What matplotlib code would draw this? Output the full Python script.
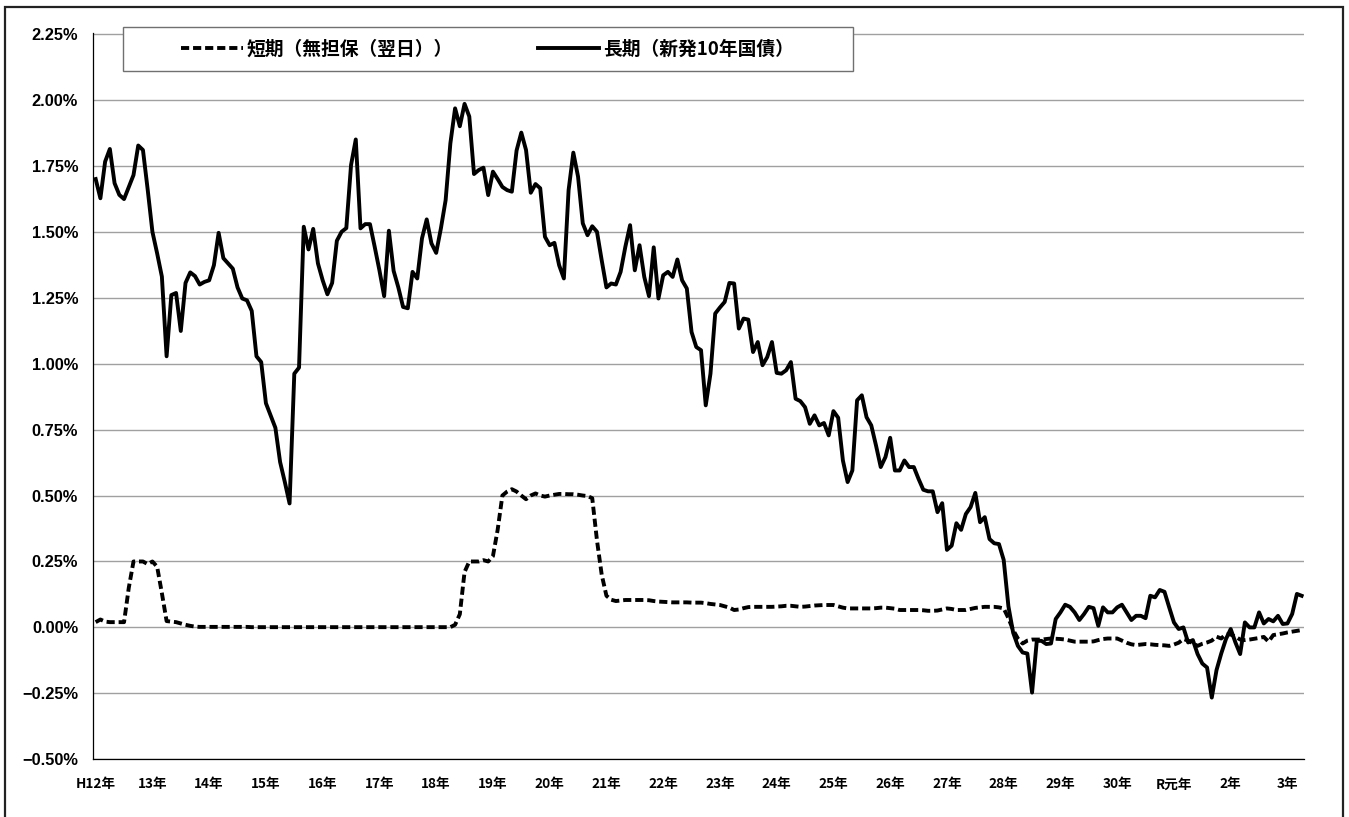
import numpy as np
import matplotlib
matplotlib.use('Agg')
import matplotlib.pyplot as plt
from matplotlib.patches import Rectangle
from matplotlib.ticker import FuncFormatter

# x axis labels, one per January (H12 = 2000 ... R3 = 2021)
year_labels = ['H12年', '13年', '14年', '15年', '16年', '17年', '18年', '19年',
               '20年', '21年', '22年', '23年', '24年', '25年', '26年', '27年',
               '28年', '29年', '30年', 'R元年', '2年', '3年']

# 短期（無担保コール翌日物） monthly, %
short_rate = [
    0.02, 0.03, 0.022, 0.02, 0.02, 0.02, 0.02, 0.15, 0.25, 0.25, 0.25, 0.24,          # H12
    0.25, 0.23, 0.13, 0.024, 0.022, 0.02, 0.015, 0.01, 0.006, 0.003, 0.002, 0.002,     # H13
    0.002, 0.002, 0.002, 0.002, 0.002, 0.002, 0.002, 0.002, 0.002, 0.001, 0.001, 0.001,  # H14
    0.001, 0.001, 0.001, 0.001, 0.001, 0.001, 0.001, 0.001, 0.001, 0.001, 0.001, 0.001,  # H15
    0.001, 0.001, 0.001, 0.001, 0.001, 0.001, 0.001, 0.001, 0.001, 0.001, 0.001, 0.001,  # H16
    0.001, 0.001, 0.001, 0.001, 0.001, 0.001, 0.001, 0.001, 0.001, 0.001, 0.001, 0.001,  # H17
    0.001, 0.001, 0.001, 0.001, 0.01, 0.05, 0.21, 0.25, 0.25, 0.25, 0.255, 0.25,       # H18
    0.27, 0.37, 0.50, 0.515, 0.524, 0.515, 0.50, 0.486, 0.50, 0.508, 0.50, 0.496,      # H19
    0.50, 0.503, 0.506, 0.506, 0.505, 0.505, 0.503, 0.50, 0.498, 0.49, 0.33, 0.20,     # H20
    0.12, 0.105, 0.10, 0.102, 0.104, 0.104, 0.104, 0.104, 0.104, 0.103, 0.10, 0.098,   # H21
    0.097, 0.096, 0.095, 0.095, 0.095, 0.095, 0.094, 0.094, 0.094, 0.092, 0.089, 0.087,  # H22
    0.085, 0.08, 0.075, 0.066, 0.068, 0.073, 0.077, 0.078, 0.078, 0.078, 0.078, 0.078,  # H23
    0.079, 0.08, 0.082, 0.082, 0.08, 0.078, 0.079, 0.081, 0.083, 0.084, 0.085, 0.085,  # H24
    0.085, 0.08, 0.075, 0.072, 0.072, 0.072, 0.072, 0.072, 0.072, 0.073, 0.075, 0.075,  # H25
    0.073, 0.071, 0.066, 0.066, 0.066, 0.066, 0.066, 0.065, 0.063, 0.063, 0.064, 0.068,  # H26
    0.072, 0.07, 0.066, 0.066, 0.066, 0.07, 0.074, 0.076, 0.078, 0.078, 0.078, 0.076,  # H27
    0.072, 0.035, -0.01, -0.042, -0.061, -0.05, -0.046, -0.046, -0.046, -0.044, -0.042, -0.043,  # H28
    -0.044, -0.046, -0.05, -0.054, -0.054, -0.054, -0.054, -0.053, -0.048, -0.044, -0.042, -0.042,  # H29
    -0.042, -0.05, -0.058, -0.064, -0.067, -0.065, -0.063, -0.064, -0.066, -0.067, -0.068, -0.07,  # H30
    -0.065, -0.058, -0.044, -0.05, -0.06, -0.07, -0.062, -0.057, -0.05, -0.035, -0.042, -0.025,  # R1
    -0.027, -0.035, -0.046, -0.048, -0.046, -0.043, -0.04, -0.036, -0.054, -0.029, -0.026, -0.023,  # R2
    -0.019, -0.016, -0.013, -0.01,                                                       # R3
]

# 長期（新発10年国債利回り） monthly, %
long_rate = [
    1.70, 1.627, 1.766, 1.814, 1.684, 1.64, 1.624, 1.67, 1.715, 1.827, 1.81, 1.66,     # H12
    1.50, 1.418, 1.33, 1.028, 1.26, 1.268, 1.124, 1.306, 1.346, 1.332, 1.30, 1.31,     # H13
    1.316, 1.373, 1.496, 1.40, 1.38, 1.36, 1.289, 1.247, 1.24, 1.20, 1.028, 1.006,     # H14
    0.85, 0.804, 0.757, 0.627, 0.551, 0.47, 0.962, 0.985, 1.519, 1.433, 1.511, 1.38,   # H15
    1.316, 1.263, 1.306, 1.466, 1.50, 1.514, 1.753, 1.85, 1.513, 1.529, 1.529, 1.443,  # H16
    1.354, 1.256, 1.504, 1.352, 1.289, 1.215, 1.21, 1.348, 1.323, 1.475, 1.547, 1.456,  # H17
    1.42, 1.513, 1.62, 1.835, 1.968, 1.90, 1.985, 1.937, 1.719, 1.734, 1.743, 1.639,   # H18
    1.728, 1.70, 1.67, 1.658, 1.652, 1.808, 1.876, 1.81, 1.648, 1.681, 1.665, 1.481,   # H19
    1.449, 1.458, 1.373, 1.323, 1.658, 1.80, 1.709, 1.532, 1.487, 1.521, 1.50, 1.392,  # H20
    1.289, 1.304, 1.30, 1.348, 1.443, 1.525, 1.354, 1.449, 1.329, 1.256, 1.441, 1.247,  # H21
    1.335, 1.348, 1.329, 1.395, 1.316, 1.285, 1.12, 1.063, 1.051, 0.842, 0.962, 1.19,  # H22
    1.213, 1.234, 1.306, 1.304, 1.133, 1.171, 1.167, 1.044, 1.082, 0.994, 1.025, 1.082,  # H23
    0.965, 0.962, 0.975, 1.006, 0.867, 0.858, 0.835, 0.772, 0.804, 0.766, 0.775, 0.728,  # H24
    0.82, 0.795, 0.633, 0.551, 0.595, 0.861, 0.88, 0.797, 0.766, 0.69, 0.608, 0.646,   # H25
    0.719, 0.595, 0.595, 0.633, 0.608, 0.608, 0.563, 0.522, 0.516, 0.516, 0.437, 0.471,  # H26
    0.294, 0.31, 0.395, 0.37, 0.43, 0.456, 0.51, 0.399, 0.418, 0.335, 0.319, 0.316,    # H27
    0.256, 0.08, -0.02, -0.07, -0.095, -0.099, -0.247, -0.051, -0.051, -0.063, -0.061, 0.032,  # H28
    0.057, 0.086, 0.078, 0.057, 0.028, 0.051, 0.078, 0.073, 0.006, 0.076, 0.057, 0.057,  # H29
    0.076, 0.086, 0.057, 0.028, 0.044, 0.044, 0.035, 0.12, 0.114, 0.142, 0.135, 0.076,  # H30
    0.019, -0.006, 0.0, -0.057, -0.048, -0.101, -0.137, -0.152, -0.266, -0.162, -0.099, -0.044,  # R1
    -0.006, -0.057, -0.101, 0.019, 0.0, 0.0, 0.057, 0.015, 0.032, 0.023, 0.044, 0.013,  # R2
    0.015, 0.051, 0.127, 0.12,                                                          # R3
]

W, H = 1349, 817
fig = plt.figure(figsize=(W / 100, H / 100), dpi=100)
ax = fig.add_axes([93.3 / W, 1 - 759.3 / H, (1304 - 93.3) / W, (759.3 - 33.3) / H])

months = np.arange(len(long_rate))
ax.plot(months, short_rate, color='black', lw=2.8, dashes=(2.1, 1.0),
        label='短期（無担保（翌日））', zorder=3)
ax.plot(months, long_rate, color='black', lw=2.8, label='長期（新発10年国債）', zorder=3)

ax.set_xlim(-0.5, len(long_rate) - 0.5)
ax.set_ylim(-0.5, 2.2525)
ax.set_yticks(np.arange(-0.5, 2.26, 0.25))
ax.yaxis.set_major_formatter(FuncFormatter(lambda v, p: f'{v:.2f}%'.replace('-', '−')))
ax.set_xticks(np.arange(0, len(long_rate), 12))
ax.set_xticklabels(year_labels)

ax.yaxis.grid(True, color='#a0a0a0', lw=1.0)
ax.set_axisbelow(True)
for s in ['top', 'right']:
    ax.spines[s].set_visible(False)
for s in ['left', 'bottom']:
    ax.spines[s].set_color('black')
    ax.spines[s].set_linewidth(0.9)
ax.tick_params(axis='both', length=0)
ax.tick_params(axis='y', pad=11)
ax.tick_params(axis='x', pad=13)
for t in ax.get_yticklabels():
    t.set_fontfamily(['Liberation Sans', 'DejaVu Sans'])
    t.set_fontweight('bold')
    t.set_fontsize(11.8)
for t in ax.get_xticklabels():
    t.set_fontfamily(['Noto Sans CJK JP', 'DejaVu Sans'])
    t.set_fontweight('bold')
    t.set_fontsize(9.8)

# legend box
fig.add_artist(Rectangle((122.7 / W, 1 - 71 / H), 730 / W, 43.7 / H, transform=fig.transFigure,
                         facecolor='white', edgecolor='#707070', lw=1.0, zorder=4))
h, l = ax.get_legend_handles_labels()
leg = fig.legend(h, l, loc='center', bbox_to_anchor=((122.7 + 365) / W, 1 - 49.2 / H),
                 ncol=2, frameon=False, handlelength=3.3, handletextpad=0.2, columnspacing=4.5,
                 prop={'family': ['Noto Sans CJK JP', 'DejaVu Sans'], 'weight': 'bold', 'size': 13.5})
leg.set_zorder(5)

# outer frame
fig.add_artist(Rectangle((5 / W, -0.05), 1337.5 / W, 1.05 - 6.5 / H, transform=fig.transFigure,
                         fill=False, edgecolor='#222222', lw=1.6, zorder=6))

fig.savefig('out.png', dpi=100)
